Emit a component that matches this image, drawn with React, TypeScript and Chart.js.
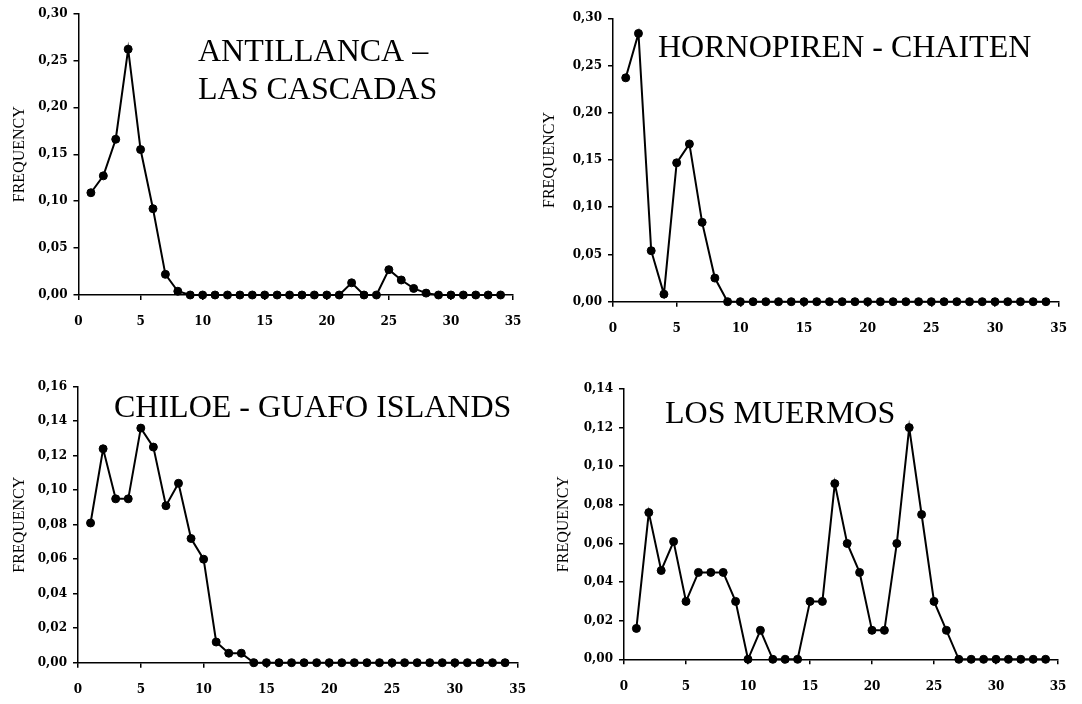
import React, { useEffect, useRef } from "react";
import { Chart, registerables } from "chart.js";

Chart.register(...registerables);

// ---- data ----
const lengthClasses = [
  1, 2, 3, 4, 5, 6, 7, 8, 9, 10, 11, 12, 13, 14, 15, 16, 17, 18, 19, 20, 21, 22, 23, 24, 25, 26, 27, 28, 29, 30, 31, 32, 33, 34,
];

const antillancaFrequency = [
  0.109, 0.127, 0.166, 0.262, 0.155, 0.092, 0.022, 0.004, 0, 0, 0, 0, 0, 0, 0, 0, 0, 0, 0, 0, 0, 0.013, 0, 0, 0.027, 0.016,
  0.007, 0.002, 0, 0, 0, 0, 0, 0,
];

const hornopirenFrequency = [
  0.237, 0.284, 0.054, 0.008, 0.147, 0.167, 0.084, 0.025, 0, 0, 0, 0, 0, 0, 0, 0, 0, 0, 0, 0, 0, 0, 0, 0, 0, 0, 0, 0, 0, 0, 0,
  0, 0, 0,
];

const chiloeFrequency = [
  0.081, 0.124, 0.095, 0.095, 0.136, 0.125, 0.091, 0.104, 0.072, 0.06, 0.012, 0.0055, 0.0055, 0, 0, 0, 0, 0, 0, 0, 0, 0, 0, 0,
  0, 0, 0, 0, 0, 0, 0, 0, 0, 0,
];

const losMuermosFrequency = [
  0.016, 0.076, 0.046, 0.061, 0.03, 0.045, 0.045, 0.045, 0.03, 0, 0.015, 0, 0, 0, 0.03, 0.03, 0.091, 0.06, 0.045, 0.015, 0.015,
  0.06, 0.12, 0.075, 0.03, 0.015, 0, 0, 0, 0, 0, 0, 0, 0,
];

const antillancaTitle = ["ANTILLANCA –", "LAS CASCADAS"];
const hornopirenTitle = ["HORNOPIREN - CHAITEN"];
const chiloeTitle = ["CHILOE - GUAFO ISLANDS"];
const losMuermosTitle = ["LOS MUERMOS"];

const yAxisTitle = "FREQUENCY";
const xAxisMin = 0;
const xAxisMax = 35;
const xAxisStep = 5;

// ---- layout / style (not data) ----
type PanelSpec = {
  values: number[];
  title: string[];
  yMax: number;
  yStep: number;
  box: { left: number; top: number; width: number; height: number };
  plot: { left: number; right: number; top: number; bottom: number };
  titlePos: [number, number][];
  yTitleCenter: number;
};

const panels: PanelSpec[] = [
  {
    values: antillancaFrequency,
    title: antillancaTitle,
    yMax: 0.3,
    yStep: 0.05,
    box: { left: 0, top: 0, width: 541, height: 352 },
    plot: { left: 78.5, right: 513, top: 13.5, bottom: 295 },
    titlePos: [
      [198, 60.5],
      [198, 99],
    ],
    yTitleCenter: 19.5,
  },
  {
    values: hornopirenFrequency,
    title: hornopirenTitle,
    yMax: 0.3,
    yStep: 0.05,
    box: { left: 530, top: 0, width: 552, height: 352 },
    plot: { left: 83, right: 535, top: 18.3, bottom: 301.7 },
    titlePos: [[128, 56.7]],
    yTitleCenter: 19.5,
  },
  {
    values: chiloeFrequency,
    title: chiloeTitle,
    yMax: 0.16,
    yStep: 0.02,
    box: { left: 0, top: 352, width: 541, height: 352 },
    plot: { left: 78, right: 522, top: 34.7, bottom: 310.7 },
    titlePos: [[114, 65.3]],
    yTitleCenter: 19.5,
  },
  {
    values: losMuermosFrequency,
    title: losMuermosTitle,
    yMax: 0.14,
    yStep: 0.02,
    box: { left: 530, top: 352, width: 552, height: 352 },
    plot: { left: 94, right: 528, top: 37, bottom: 307.3 },
    titlePos: [[135, 71.3]],
    yTitleCenter: 33.5,
  },
];

const tickFont = { family: '"DejaVu Serif"', size: 12, weight: "bold" as const };
const titleFontSize = 16;

function Panel({ spec }: { spec: PanelSpec }) {
  const ref = useRef<HTMLCanvasElement | null>(null);

  useEffect(() => {
    const canvas = ref.current;
    if (!canvas) return;
    const { box, plot } = spec;

    const titlePlugin = {
      id: "panelTitle",
      afterDraw(chart: any) {
        const ctx = chart.ctx;
        ctx.save();
        ctx.font = '32px "Liberation Serif"';
        ctx.fillStyle = "#000";
        ctx.textAlign = "left";
        ctx.textBaseline = "alphabetic";
        spec.title.forEach((line, i) => {
          const p = spec.titlePos[i];
          ctx.fillText(line, p[0], p[1]);
        });
        ctx.restore();
      },
    };

    const points = lengthClasses.map((x, i) => ({ x, y: spec.values[i] }));
    const lineH = titleFontSize * 1.2;

    const chart = new Chart(canvas, {
      type: "line",
      data: {
        datasets: [
          {
            data: points,
            borderColor: "#000",
            borderWidth: 2,
            pointRadius: 4,
            pointBorderWidth: 1,
            pointBackgroundColor: "#000",
            pointBorderColor: "#000",
            tension: 0,
            fill: false,
            clip: false as any,
          },
        ],
      },
      options: {
        animation: false,
        responsive: false,
        maintainAspectRatio: false,
        events: [],
        layout: {
          padding: { left: 0, top: plot.top, right: box.width - plot.right, bottom: 0 },
        },
        plugins: {
          legend: { display: false },
          tooltip: { enabled: false },
          title: { display: false },
        },
        scales: {
          x: {
            type: "linear",
            min: xAxisMin,
            max: xAxisMax,
            afterFit: (s: any) => {
              s.height = box.height - plot.bottom;
            },
            ticks: {
              stepSize: xAxisStep,
              color: "#000",
              font: tickFont,
              padding: 15,
              maxRotation: 0,
              autoSkip: false,
            },
            grid: {
              display: true,
              drawOnChartArea: false,
              drawTicks: true,
              tickLength: 5,
              color: "#000",
              lineWidth: 1.5,
            },
            border: { display: true, color: "#000", width: 1.5 },
          },
          y: {
            type: "linear",
            min: 0,
            max: spec.yMax,
            afterFit: (s: any) => {
              s.width = plot.left;
            },
            ticks: {
              stepSize: spec.yStep,
              color: "#000",
              font: tickFont,
              padding: 6,
              callback: (v: any) => Number(v).toFixed(2).replace(".", ","),
            },
            grid: {
              display: true,
              drawOnChartArea: false,
              drawTicks: true,
              tickLength: 5,
              color: "#000",
              lineWidth: 1.5,
            },
            border: { display: true, color: "#000", width: 1.5 },
            title: {
              display: true,
              text: yAxisTitle,
              color: "#000",
              font: { family: '"Liberation Serif"', size: titleFontSize },
              padding: { top: spec.yTitleCenter - lineH / 2, bottom: 0 },
            },
          },
        },
      },
      plugins: [titlePlugin],
    } as any);

    return () => chart.destroy();
  }, [spec]);

  return (
    <canvas
      ref={ref}
      width={spec.box.width}
      height={spec.box.height}
      style={{
        position: "absolute",
        left: spec.box.left,
        top: spec.box.top,
        width: spec.box.width,
        height: spec.box.height,
      }}
    />
  );
}

export default function App() {
  return (
    <div
      style={{
        position: "absolute",
        left: 0,
        top: 0,
        width: 1082,
        height: 704,
        background: "#fff",
        overflow: "hidden",
      }}
    >
      {panels.map((p, i) => (
        <Panel key={i} spec={p} />
      ))}
    </div>
  );
}
